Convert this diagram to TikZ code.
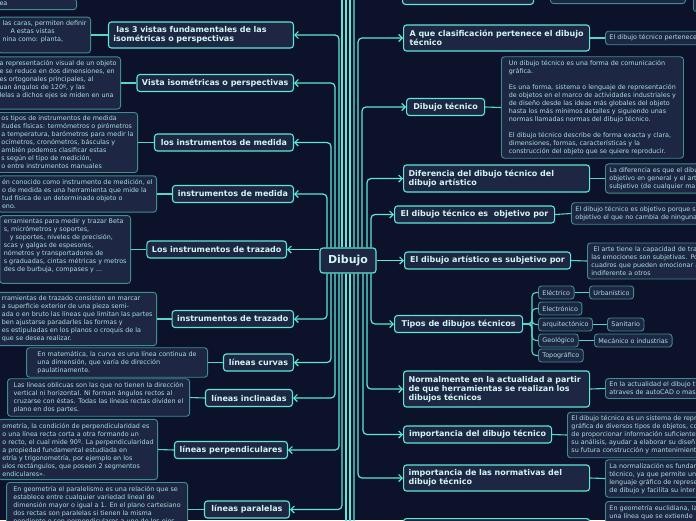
\documentclass[tikz,border=0pt]{standalone}
\usepackage{fontspec}
\setmainfont{DejaVu Sans}
\usepackage{tikz}
\usetikzlibrary{arrows.meta}
\definecolor{bgnavy}{HTML}{0C1229}
\definecolor{boxfill}{HTML}{1D2642}
\definecolor{cyanline}{HTML}{5DE8D8}
\definecolor{tealedge}{HTML}{3F8E90}
\definecolor{toptext}{HTML}{D2F6F2}
\definecolor{notetext}{HTML}{A8E2DE}
\newcommand{\tfont}{\fontsize{8}{9}\selectfont\bfseries}
\newcommand{\nfont}{\fontsize{6.4}{8}\selectfont}

\begin{document}
\begin{tikzpicture}[x=1pt,y=-1pt,
  topic/.style={draw=cyanline,fill=boxfill,line width=1.1pt,rounded corners=3pt,text=toptext,font=\tfont,align=left,inner xsep=5pt,inner ysep=2pt,minimum height=17pt},
  note/.style={draw=tealedge,fill=boxfill,line width=0.9pt,rounded corners=3pt,text=notetext,font=\nfont,align=left,inner xsep=4pt,inner ysep=3.5pt},
  leaf/.style={note,minimum height=13pt,inner ysep=1pt},
  link/.style={draw=cyanline,line width=1.2pt,rounded corners=4pt,-{Straight Barb[length=3.5pt,width=7pt]}},
  tie/.style={draw=cyanline!80!tealedge,line width=1.1pt},
  twig/.style={tie,rounded corners=4pt}]
  \useasboundingbox (0,0) rectangle (696,520);
  \fill[bgnavy] (0,0) rectangle (696,520);
  \clip (0,0) rectangle (696,520);

  % centre
  \node[topic,font=\fontsize{11}{13}\selectfont\bfseries,minimum width=56,minimum height=25,align=center] (dib) at (348,260.5) {Dibujo};

  % left topics
  \node[topic,anchor=east,text width=175,minimum height=26] (las3) at (294,35) {\hspace{3pt}las 3 vistas fundamentales de las\\isométricas o perspectivas};
  \node[topic,anchor=east,minimum width=155] (vista) at (294,83) {Vista isométricas o perspectivas};
  \node[topic,anchor=east,minimum width=139] (losmed) at (294,142.5) {los instrumentos de medida};
  \node[topic,anchor=east,minimum width=121] (med) at (294,194) {instrumentos de medida};
  \node[topic,anchor=east,minimum width=139] (lostraz) at (287,249.5) {Los instrumentos de trazado};
  \node[topic,anchor=east,minimum width=121] (traz) at (294,319) {instrumentos de trazado};
  \node[topic,anchor=east,minimum width=70] (curvas) at (294,362.5) {líneas curvas};
  \node[topic,anchor=east,minimum width=87] (inclin) at (293,398) {líneas inclinadas};
  \node[topic,anchor=east,minimum width=113] (perp) at (288,450) {líneas perpendiculares};
  \node[topic,anchor=east,minimum width=85] (paral) at (290,509.5) {líneas paralelas};

  % left notes
  \node[note,anchor=south east,text width=73] (top-n) at (77,10) {ea};
  \node[note,anchor=east] (las3-n) at (91,35) {las caras, permiten definir\\\hspace{8pt}A estas vistas\\nina como: planta,\\\mbox{}};
  \node[note,anchor=east] (vista-n) at (121,83) {a representación visual de un objeto\\e se reduce en dos dimensiones, en\\es ortogonales principales, al\\uan ángulos de 120º, y las\\lelas a dichos ejes se miden en una\\\mbox{}};
  \node[note,anchor=east] (losmed-n) at (138,142.5) {os tipos de instrumentos de medida\\itudes físicas: termómetros o pirómetros\\a temperatura, barómetros para medir la\\ocímetros, cronómetros, básculas y\\ambién podemos clasificar estas\\s según el tipo de medición,\\o entre instrumentos manuales};
  \node[note,anchor=east] (med-n) at (157,194) {én conocido como instrumento de medición, el\\o de medida es una herramienta que mide la\\tud física de un determinado objeto o\\eno.};
  \node[note,anchor=east] (lostraz-n) at (131,249.5) {erramientas para medir y trazar Beta\\s, micrómetros y soportes,\\\hspace{6pt}y soportes, niveles de precisión,\\scas y galgas de espesores,\\nómetros y transportadores de\\s graduadas, cintas métricas y metros\\des de burbuja, compases y ...\\\mbox{}};
  \node[note,anchor=east] (traz-n) at (157,319) {rramientas de trazado consisten en marcar\\a superficie exterior de una pieza semi-\\ada o en bruto las líneas que limitan las partes\\ben ajustarse paradarles las formas y\\es estipuladas en los planos o croquis de la\\que se desea realizar.};
  \node[note,anchor=east,minimum width=181] (curvas-n) at (208,362.5) {En matemática, la curva es una línea continua de\\una dimensión, que varía de dirección\\paulatinamente.};
  \node[note,anchor=east,minimum width=182] (inclin-n) at (190,397.5) {Las líneas oblicuas son las que no tienen la dirección\\vertical ni horizontal. Ni forman ángulos rectos al\\cruzarse con éstas. Todas las líneas rectas dividen el\\plano en dos partes.};
  \node[note,anchor=east] (perp-n) at (158,449.5) {ometría, la condición de perpendicularidad es\\o una línea recta corta a otra formando un\\o recto, el cual mide 90º. La perpendicularidad\\a propiedad fundamental estudiada en\\etría y trigonometría, por ejemplo en los\\ulos rectángulos, que poseen 2 segmentos\\endiculares».};
  \node[note,anchor=north east,minimum width=181] (paral-n) at (188,482) {En geometría el paralelismo es una relación que se\\establece entre cualquier variedad lineal de\\dimensión mayor o igual a 1. En el plano cartesiano\\dos rectas son paralelas si tienen la misma\\pendiente o son perpendiculares a uno de los ejes};

  % right topics
  \node[topic,anchor=south west,minimum width=131,minimum height=26] (first) at (402,5) {};
  \node[topic,anchor=west,minimum width=186,minimum height=26] (clasif) at (403,38) {A que clasificación pertenece el dibujo\\técnico};
  \node[topic,anchor=west,minimum width=78] (dibtec) at (406,107) {Dibujo técnico};
  \node[topic,anchor=west,text width=176,minimum height=27] (dif) at (403,178.5) {Diferencia del dibujo técnico del\\dibujo artístico};
  \node[topic,anchor=west,minimum width=160] (obj) at (394,214.5) {El dibujo técnico es\ \ objetivo por};
  \node[topic,anchor=west,minimum width=166] (subj) at (404,260.5) {El dibujo artístico es subjetivo por};
  \node[topic,anchor=west,minimum width=128] (tipos) at (394,324) {Tipos de dibujos técnicos};
  \node[topic,anchor=west,text width=176,minimum height=36] (normal) at (403,389) {Normalmente en la actualidad a partir\\de que herramientas se realizan los\\dibujos técnicos};
  \node[topic,anchor=west,minimum width=148] (imp) at (403,434.5) {importancia del dibujo técnico};
  \node[topic,anchor=west,text width=176,minimum height=26] (impnorm) at (403,478) {importancia de las normativas del\\dibujo técnico};
  \node[topic,anchor=north west,minimum width=186,minimum height=26] (last) at (403,518) {};

  % right notes
  \node[note,anchor=south west,minimum width=135,minimum height=30] (first-n) at (550,4) {};
  \node[note,anchor=south west,minimum width=40,minimum height=30] (first-m) at (693,12) {};
  \node[note,anchor=west,text width=120] (clasif-n) at (605,38) {El dibujo técnico pertenece};
  \node[note,anchor=west,minimum width=182] (dibtec-n) at (501,107.5) {Un dibujo técnico es una forma de comunicación\\gráfica.\\[8pt]Es una forma, sistema o lenguaje de representación\\de objetos en el marco de actividades industriales y\\de diseño desde las ideas más globales del objeto\\hasta los más mínimos detalles y siguiendo unas\\normas llamadas normas del dibujo técnico.\\[8pt]El dibujo técnico describe de forma exacta y clara,\\dimensiones, formas, características y la\\construcción del objeto que se quiere reproducir.};
  \node[note,anchor=west,text width=120] (dif-n) at (605,178.5) {La diferencia es que el dibu\\objetivo en general y el art\\subjetivo (de cualquier ma};
  \node[note,anchor=west,text width=140] (obj-n) at (571,213.5) {El dibujo técnico es objetivo porque s\\objetivo el que no cambia de ninguna};
  \node[note,anchor=west,text width=130] (subj-n) at (587,261) {\ El arte tiene la capacidad de tra\\las emociones son subjetivas. Po\\cuadros que pueden emocionar a\\indiferente a otros};
  \node[note,anchor=west,text width=120] (normal-n) at (605,388.5) {En la actualidad el dibujo t\\atraves de autoCAD o mas};
  \node[note,anchor=west,text width=140] (imp-n) at (567,435) {El dibujo técnico es un sistema de repr\\gráfica de diversos tipos de objetos, co\\de proporcionar información suficiente\\su análisis, ayudar a elaborar su diseñ\\su futura construcción y mantenimient};
  \node[note,anchor=west,text width=120] (impnorm-n) at (605,478.5) {La normalización es fundam\\técnico, ya que permite un\\lenguaje gráfico de represe\\de dibujo y facilita su inter};
  \node[note,anchor=north west,text width=120] (last-n) at (605,501) {En geometría euclidiana, la\\una línea que se extiende};

  % tipos
  \node[leaf,anchor=west] (elec) at (538,292.5) {Eléctrico};
  \node[leaf,anchor=west] (urban) at (589,292.5) {Urbanístico};
  \node[leaf,anchor=west] (electr) at (538,308.5) {Electrónico};
  \node[leaf,anchor=west] (arq) at (538,324.5) {arquitectónico};
  \node[leaf,anchor=west] (sanit) at (607,324.5) {Sanitario};
  \node[leaf,anchor=west] (geol) at (538,340.5) {Geológico};
  \node[leaf,anchor=west] (mecan) at (594,340.5) {Mecánico o industrias};
  \node[leaf,anchor=west] (topog) at (538,355.5) {Topográfico};

  % connectors
  \foreach \t/\xx in {las3/339,vista/335,losmed/331,med/327}
    \draw[link] (dib.north -| \xx,0) |- (\t.east);
  \foreach \t/\xx in {first/354,clasif/358,dibtec/362,dif/367,obj/371}
    \draw[link] (dib.north -| \xx,0) |- (\t.west);
  \foreach \t/\xx in {traz/327,curvas/331,inclin/335,perp/339,paral/342}
    \draw[link] (dib.south -| \xx,0) |- (\t.east);
  \foreach \t/\xx in {tipos/371,normal/367,imp/363,impnorm/358,last/354}
    \draw[link] (dib.south -| \xx,0) |- (\t.west);
  \foreach \xx [count=\i] in {342,346,350}{
    \coordinate (up\i) at (\xx,-20);
    \draw[link,-] (dib.north -| up\i) -- (up\i);
  }
  \foreach \xx [count=\i] in {346,350}{
    \coordinate (dn\i) at (\xx,540);
    \draw[link,-] (dib.south -| dn\i) -- (dn\i);
  }
  \draw[link] (dib.west |- lostraz.east) -- (lostraz.east);
  \draw[link] (dib.east) -- (subj.west);

  \foreach \t in {las3,vista,losmed,med,lostraz,traz,curvas,inclin,perp}
    \draw[tie] (\t.west) -- (\t-n.east);
  \draw[tie] (paral.west) -- (paral.west -| paral-n.east);
  \foreach \t in {clasif,dibtec,dif,obj,subj,normal,imp,impnorm}
    \draw[tie] (\t.east) -- (\t-n.west);
  \draw[tie] (first.east) -- (first.east -| first-n.west);
  \draw[tie] (last.east) -- (last.east -| last-n.west);

  \coordinate (spine) at (532,324);
  \foreach \s in {elec,electr,arq,geol,topog}
    \draw[twig] (tipos.east) -- (spine) |- (\s.west);
  \draw[tie] (elec.east) -- (urban.west);
  \draw[tie] (arq.east) -- (sanit.west);
  \draw[tie] (geol.east) -- (mecan.west);
\end{tikzpicture}
\end{document}
